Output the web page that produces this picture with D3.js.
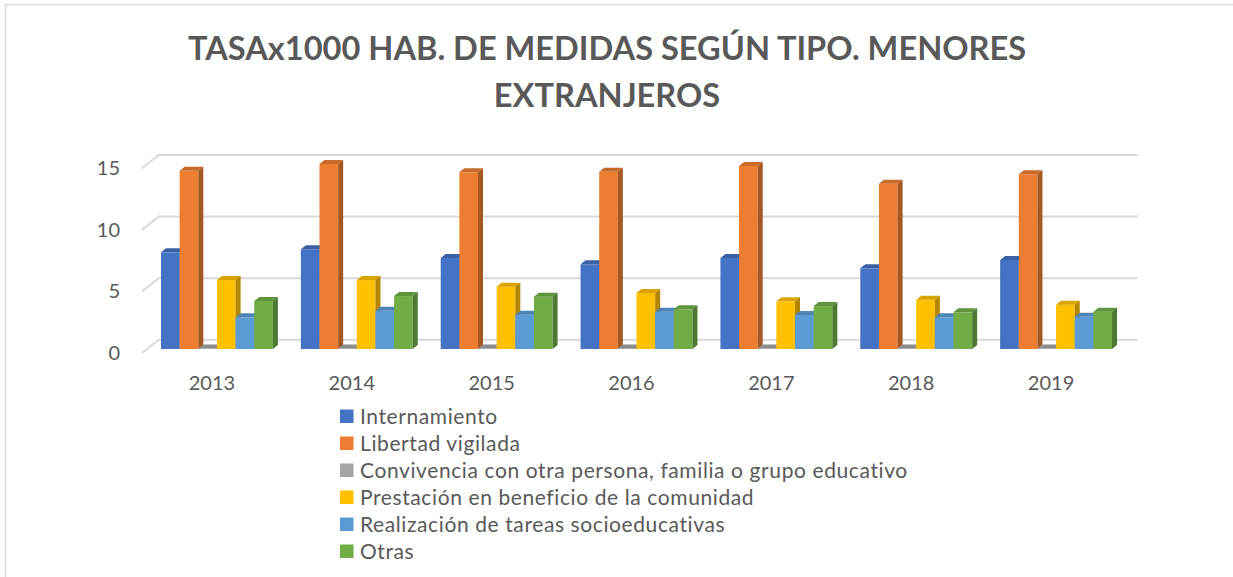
<!DOCTYPE html>
<html>
<head>
<meta charset="utf-8">
<script src="https://cdn.jsdelivr.net/npm/d3@7"></script>
<style>
  body { margin: 0; background: #fff; }
  svg { display: block; font-family: Lato, "Open Sans", sans-serif; }
</style>
</head>
<body>
<div id="chart"></div>
<script>
// data
const years = ["2013", "2014", "2015", "2016", "2017", "2018", "2019"];
const seriesNames = [
  "Internamiento",
  "Libertad vigilada",
  "Convivencia con otra persona, familia o grupo educativo",
  "Prestación en beneficio de la comunidad",
  "Realización de tareas socioeducativas",
  "Otras"
];
const internamiento    = [7.85, 8.10, 7.39, 6.88, 7.39, 6.55, 7.23];
const libertadVigilada = [14.48, 15.03, 14.35, 14.40, 14.87, 13.43, 14.19];
const convivencia      = [0.05, 0.05, 0.05, 0.05, 0.05, 0.05, 0.05];
const prestacion       = [5.60, 5.60, 5.06, 4.55, 3.87, 4.00, 3.60];
const tareas           = [2.57, 3.11, 2.79, 3.03, 2.76, 2.57, 2.62];
const otras            = [3.90, 4.30, 4.25, 3.22, 3.49, 2.98, 3.03];
const yTicks = [0, 5, 10, 15];
const titleLines = ["TASAx1000 HAB. DE MEDIDAS SEGÚN TIPO. MENORES", "EXTRANJEROS"];

const colors = ["#4472C4", "#ED7D31", "#A5A5A5", "#FFC000", "#5B9BD5", "#70AD47"];
const values = [internamiento, libertadVigilada, convivencia, prestacion, tareas, otras];

function draw() {
  const width = 1233, height = 577;
  const textColor = "#595959";
  // oblique depth of the 3d box
  const DX = 16.7, DY = -13.3;
  const f0 = 0.3, f1 = 0.6;

  const svg = d3.select("#chart").append("svg")
    .attr("width", width).attr("height", height);

  // chart frame (only left and top are inside the picture)
  svg.append("path")
    .attr("d", "M5.5," + height + " L5.5,4.5 L" + width + ",4.5")
    .attr("fill", "none").attr("stroke", "#D9D9D9").attr("stroke-width", 1.5);

  var x = d3.scaleBand().domain(years).range([142, 1121]);
  var xs = d3.scaleBand().domain(seriesNames).range([0, x.bandwidth()]).paddingOuter(0.75);
  var y = d3.scaleLinear().domain([0, 15]).range([353, 168.3]);
  var color = d3.scaleOrdinal().domain(seriesNames).range(colors);

  // gridlines: side wall diagonal + back wall
  svg.append("g").selectAll("path").data(yTicks).enter().append("path")
    .attr("d", function(t) {
      return "M142," + y(t) + " L" + (142 + DX) + "," + (y(t) + DY) +
             " L" + (x.range()[1] + DX) + "," + (y(t) + DY);
    })
    .attr("fill", "none").attr("stroke", "#D9D9D9").attr("stroke-width", 2);

  // y axis labels
  var yAxis = d3.axisLeft(y).tickValues(yTicks).tickSize(0).tickPadding(8);
  var gy = svg.append("g").attr("transform", "translate(128,0)").call(yAxis);
  gy.select(".domain").remove();
  gy.selectAll("text").attr("font-family", "Lato").attr("font-size", 20).attr("fill", textColor);

  // x axis labels
  var xAxis = d3.axisBottom(x).tickSize(0).tickPadding(6);
  var gx = svg.append("g").attr("transform", "translate(0,370)").call(xAxis);
  gx.select(".domain").remove();
  gx.selectAll("text").attr("font-family", "Lato").attr("font-size", 20).attr("fill", textColor);

  // bars
  var bars = [];
  years.forEach(function(yr, j) {
    seriesNames.forEach(function(s, i) {
      bars.push({ year: yr, series: s, value: values[i][j] });
    });
  });

  var ddx = (f1 - f0) * DX, ddy = (f1 - f0) * DY;
  var w = xs.bandwidth();
  var g = svg.append("g").selectAll("g").data(bars).enter().append("g");

  g.append("rect")
    .attr("x", function(d) { return x(d.year) + xs(d.series) + f0 * DX; })
    .attr("y", function(d) { return y(d.value) + f0 * DY; })
    .attr("width", w)
    .attr("height", function(d) { return y(0) - y(d.value); })
    .attr("fill", function(d) { return color(d.series); });

  g.append("path")
    .attr("d", function(d) {
      var x0 = x(d.year) + xs(d.series) + f0 * DX, yt = y(d.value) + f0 * DY;
      return "M" + x0 + "," + yt + " L" + (x0 + w) + "," + yt +
        " L" + (x0 + w + ddx) + "," + (yt + ddy) + " L" + (x0 + ddx) + "," + (yt + ddy) + "Z";
    })
    .attr("fill", function(d) { return d3.color(color(d.series)).darker(0.45); });

  g.append("path")
    .attr("d", function(d) {
      var x0 = x(d.year) + xs(d.series) + f0 * DX, yt = y(d.value) + f0 * DY, yb = y(0) + f0 * DY;
      return "M" + (x0 + w) + "," + yt + " L" + (x0 + w + ddx) + "," + (yt + ddy) +
        " L" + (x0 + w + ddx) + "," + (yb + ddy) + " L" + (x0 + w) + "," + yb + "Z";
    })
    .attr("fill", function(d) { return d3.color(color(d.series)).darker(1); });

  // title
  svg.append("g").selectAll("text").data(titleLines).enter().append("text")
    .attr("x", 607)
    .attr("y", function(d, i) { return 60 + i * 47; })
    .attr("text-anchor", "middle")
    .attr("font-family", "Lato").attr("font-weight", "bold").attr("font-size", 32.6)
    .attr("fill", textColor)
    .text(function(d) { return d; });

  // legend
  var legend = svg.append("g").selectAll("g").data(seriesNames).enter().append("g")
    .attr("transform", function(d, i) { return "translate(340," + (i * 27) + ")"; });
  legend.append("rect")
    .attr("x", 0).attr("y", 409.5).attr("width", 13.5).attr("height", 13.5)
    .attr("fill", function(d) { return color(d); });
  legend.append("text")
    .attr("x", 20).attr("y", 423.5)
    .attr("font-family", "Lato").attr("font-size", 21).attr("letter-spacing", 0.6)
    .attr("fill", textColor)
    .text(function(d) { return d; });
}

window.onload = draw;
</script>
</body>
</html>
